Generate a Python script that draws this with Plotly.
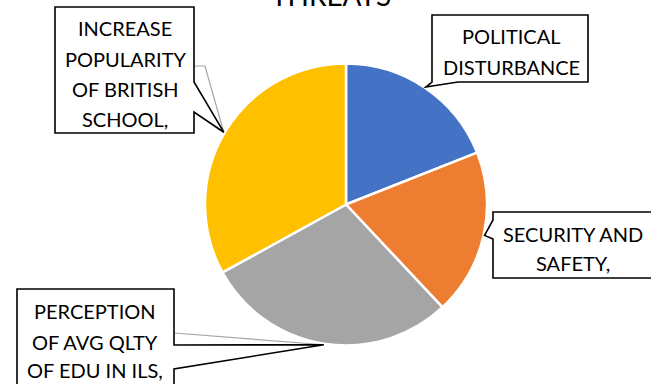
import math
import plotly.graph_objects as go

# ---- data ----
categories = ["POLITICAL DISTURBANCE", "SECURITY AND SAFETY", "PERCEPTION OF AVG QLTY OF EDU IN ILS", "INCREASE POPULARITY OF BRITISH SCHOOL"]
values = [19, 19, 29, 33]
colors = ["#4472C4", "#ED7D31", "#A5A5A5", "#FFC000"]
label_lines = [
    ["POLITICAL", "DISTURBANCE"],
    ["SECURITY AND", "SAFETY,"],
    ["PERCEPTION", "OF AVG QLTY", "OF EDU IN ILS,"],
    ["INCREASE", "POPULARITY", "OF BRITISH", "SCHOOL,"],
]
title_text = "THREATS"

W, H = 651, 384
CX, CY, R = 346, 204.5, 141


def px(x):
    return x / W


def py(y):
    return 1 - y / H


def path(points):
    s = "M " + " L ".join(f"{px(x):.5f},{py(y):.5f}" for x, y in points)
    return s


# tip points at mid-angle of each slice
total = sum(values)
tips = []
acc = 0
for v in values:
    mid = (acc + v / 2) / total * 2 * math.pi
    acc += v
    tips.append((CX + (R + 1) * math.sin(mid), CY - (R + 1) * math.cos(mid)))

fig = go.Figure(go.Pie(
    labels=categories, values=values, sort=False, direction="clockwise", rotation=0,
    marker=dict(colors=colors, line=dict(color="white", width=2.5)),
    textinfo="none", hoverinfo="label+value", showlegend=False,
    domain=dict(x=[px(CX - R), px(CX + R)], y=[py(CY + R), py(CY - R)]),
))

shapes = []
FONT = "Lato"
BLK = dict(color="black", width=1.6)
GRY = dict(color="#A6A6A6", width=1.2)

# box geometry (left, top, right, bottom) and pointer attachments
boxes = [
    (432, 15, 588, 82),
    (493, 212, 660, 278),
    (17, 289, 174, 400),
    (55, 7, 194, 133),
]

# political: pointer off bottom-left
l, t, r, b = boxes[0]
tx, ty = tips[0]
shapes.append(dict(type="path", path=path([(l, t), (r, t), (r, b), (458, b), (tx, ty), (l, b)]) + " Z",
                   line=BLK, fillcolor="white", xref="paper", yref="paper"))
# security: pointer off left edge
l, t, r, b = boxes[1]
tx, ty = tips[1]
shapes.append(dict(type="path", path=path([(l, t), (r, t), (r, b), (l, b), (l, 239), (tx, ty), (l, 220)]) + " Z",
                   line=BLK, fillcolor="white", xref="paper", yref="paper"))
# perception: gray leader + pointer off right edge
l, t, r, b = boxes[2]
tx, ty = tips[2]
shapes.append(dict(type="path", path=path([(r, 333), (tx, ty)]), line=GRY, xref="paper", yref="paper"))
shapes.append(dict(type="path", path=path([(l, t), (r, t), (r, 345), (tx, ty), (r, 369), (r, b), (l, b)]) + " Z",
                   line=BLK, fillcolor="white", xref="paper", yref="paper"))
# increase popularity: gray leader + pointer off right edge
l, t, r, b = boxes[3]
tx, ty = tips[3]
shapes.append(dict(type="path", path=path([(r, 66), (205, 66), (tx, ty)]), line=GRY, xref="paper", yref="paper"))
shapes.append(dict(type="path", path=path([(l, t), (r, t), (r, 82), (tx, ty), (r, 112), (r, b), (l, b)]) + " Z",
                   line=BLK, fillcolor="white", xref="paper", yref="paper"))

# text line positions
text_pos = [
    (511, [34.5, 65]),
    (573, [232, 261.5]),
    (95, [309, 340, 368]),
    (125, [26.5, 57.5, 87, 117]),
]
annotations = []
for lines, (xc, ys) in zip(label_lines, text_pos):
    for s, yc in zip(lines, ys):
        annotations.append(dict(text=s, x=px(xc), y=py(yc + 1.5), xref="paper", yref="paper",
                                xanchor="center", yanchor="middle", showarrow=False,
                                font=dict(family=FONT, size=20, color="black")))

annotations.append(dict(text=title_text, x=px(331), y=py(14), xref="paper", yref="paper",
                        xanchor="center", yanchor="bottom", showarrow=False,
                        font=dict(family=FONT, size=28, color="black")))

fig.update_layout(
    width=W, height=H, margin=dict(l=0, r=0, t=0, b=0),
    paper_bgcolor="white", plot_bgcolor="white",
    shapes=shapes, annotations=annotations,
)
fig.write_html("out.html", config={"displayModeBar": False},
               post_script="document.body.style.margin='0';")
